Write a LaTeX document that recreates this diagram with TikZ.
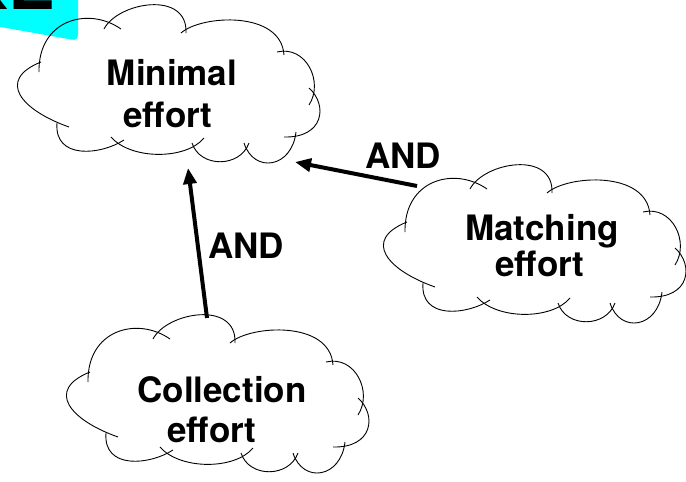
\documentclass[tikz,border=0pt]{standalone}
\usepackage{fontspec}
\setmainfont{TeX Gyre Heros}
\usetikzlibrary{arrows.meta}

\definecolor{labelcyan}{RGB}{0,255,255}

\tikzset{
  cloudline/.style={line width=0.9pt, black},
  linkarrow/.style={line width=4pt, -{Triangle[length=16pt,width=13pt]}},
  cloudtext/.style={font=\bfseries\fontsize{35}{40}\selectfont, anchor=base, inner sep=0pt},
  titletext/.style={font=\bfseries\fontsize{70}{80}\selectfont, anchor=base west, inner sep=0pt},
}

% One hand-drawn cloud: ten overlapping arcs, origin at its left-most point
\newcommand\cloudoutline[1]{%
  \begin{scope}[shift={#1}]
    \draw[cloudline] (23,-18) .. controls (22,-70) and (72,-84) .. (105,-61);
    \draw[cloudline] (88,-61) .. controls (102,-88) and (172,-100) .. (170,-57);
    \draw[cloudline] (165,-57) .. controls (185,-75) and (265,-80) .. (268,-35);
    \draw[cloudline] (261,-38) .. controls (290,-45) and (308,-8) .. (293,15);
    \draw[cloudline] (293,-2) .. controls (312,15) and (308,48) .. (268,47);
    \draw[cloudline] (280,42) .. controls (276,78) and (238,84) .. (228,53);
    \draw[cloudline] (233,53) .. controls (224,78) and (184,78) .. (176,53);
    \draw[cloudline] (188,48) .. controls (170,70) and (115,70) .. (95,47);
    \draw[cloudline] (108,50) .. controls (85,65) and (38,70) .. (41,33);
    \draw[cloudline] (53,37) .. controls (5,20) and (-20,-10) .. (25,-28);
  \end{scope}}

\begin{document}
\begin{tikzpicture}[x=1pt, y=-1pt]
  \useasboundingbox (0,0) rectangle (686,482);

  % title tab, cut by the top edge
  \fill[labelcyan] (-5,-5) -- (78,-5) -- (78,34)
    .. controls (78,39) and (76,40.5) .. (71,39.5) -- (-5,26) -- cycle;
  \node[titletext] (title) at (-42.6,9) {KE};

  % clouds
  \cloudoutline{(16,90)}
  \cloudoutline{(382,250)}
  \cloudoutline{(65,400)}

  % cloud labels
  \node[cloudtext] (minA) at (172,85) {Minimal};
  \node[cloudtext] (minB) at (168,127) {effort};
  \node[cloudtext] (matA) at (542,240) {Matching};
  \node[cloudtext] (matB) at (540,276) {effort};
  \node[cloudtext] (colA) at (222,402) {Collection};
  \node[cloudtext] (colB) at (212,442) {effort};

  % connector ends on the cloud outlines
  \coordinate (collTop) at (207,318);
  \coordinate (minBottom) at (188,168);
  \coordinate (matchLeft) at (417,186);
  \coordinate (minRight) at (295,162);

  \draw[linkarrow] (collTop) -- (minBottom);
  \draw[linkarrow] (matchLeft) -- (minRight);

  \node[cloudtext] (andLow) at (246,258) {AND};
  \node[cloudtext] (andHigh) at (403,168) {AND};
\end{tikzpicture}
\end{document}
